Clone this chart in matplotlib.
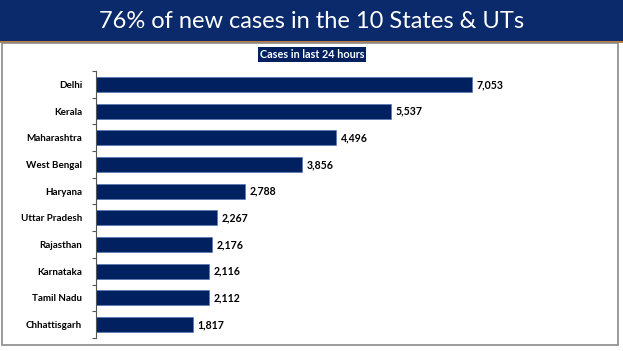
import matplotlib.pyplot as plt
from matplotlib.patches import Rectangle

states = ['Delhi', 'Kerala', 'Maharashtra', 'West Bengal', 'Haryana',
          'Uttar Pradesh', 'Rajasthan', 'Karnataka', 'Tamil Nadu', 'Chhattisgarh']
cases = [7053, 5537, 4496, 3856, 2788, 2267, 2176, 2116, 2112, 1817]

title = '76% of new cases in the 10 States & UTs'
subtitle = 'Cases in last 24 hours'

navy = '#002060'
header = '#0b2a6b'

plt.rcParams['font.family'] = ['Lato', 'DejaVu Sans']

fig = plt.figure(figsize=(6.23, 3.51), dpi=100)
fig.patch.set_facecolor('white')

# header band + orange rule
fig.add_artist(Rectangle((0, 1 - 41 / 351), 1, 41 / 351, transform=fig.transFigure,
                         facecolor=header, edgecolor='none'))
fig.add_artist(Rectangle((0, 1 - 42.5 / 351), 1, 1.5 / 351, transform=fig.transFigure,
                         facecolor='#c07a3a', edgecolor='none'))
fig.text(311.5 / 623, 1 - 21 / 351, title, color='white', fontsize=17, ha='center', va='center')

# grey panel border
fig.add_artist(Rectangle((2 / 623, 1 - 345 / 351), 616 / 623, 302 / 351,
                         transform=fig.transFigure, facecolor='none',
                         edgecolor='#8a8a8a', linewidth=1.2))

# subtitle box
fig.text(312 / 623, 1 - 54.5 / 351, subtitle, color='white', fontsize=7.8, fontweight='bold',
         ha='center', va='center',
         bbox=dict(boxstyle='square,pad=0.2', facecolor=navy, edgecolor='none'))

ax = fig.add_axes([96 / 623, 1 - 338 / 351, 504 / 623, 267 / 351])
y = list(range(len(states)))
ax.barh(y, cases, height=0.56, color=navy, edgecolor='#4a6fb5', linewidth=0.4)
for yi, v in zip(y, cases):
    ax.text(v + 90, yi, f'{v:,}', va='center', ha='left', fontsize=7.6, fontweight='bold',
            color='black')

ax.set_xlim(0, 9455)
ax.set_ylim(len(states) - 0.5, -0.5)
ax.set_yticks(y)
ax.set_yticklabels(states, fontsize=7.1, fontweight='bold')
ax.set_yticks([i - 0.5 for i in range(len(states) + 1)], minor=True)
ax.tick_params(axis='y', which='major', length=0, pad=10)
ax.tick_params(axis='y', which='minor', length=3, width=0.8, color='#555555')
ax.set_xticks([])
for s in ['top', 'right', 'bottom']:
    ax.spines[s].set_visible(False)
ax.spines['left'].set_color('#555555')
ax.spines['left'].set_linewidth(0.8)
ax.patch.set_alpha(0)

fig.savefig('out.png', dpi=100)
